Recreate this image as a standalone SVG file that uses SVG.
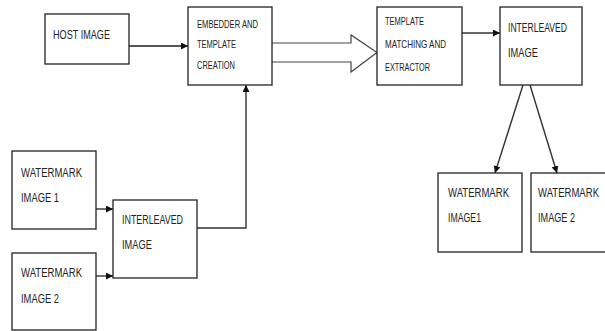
<svg xmlns="http://www.w3.org/2000/svg" width="605" height="331" viewBox="0 0 605 331">
<style>
.box{fill:#fff;stroke:#222;stroke-width:1.3}
.t{font-family:"Liberation Sans",Arial,sans-serif;font-size:12.5px;fill:#222}
.s{font-size:10.5px}
.c{fill:none;stroke:#333;stroke-width:1.4}
</style>
<defs>
<marker id="ah" viewBox="0 0 10 10" refX="10" refY="5" markerWidth="7" markerHeight="7" markerUnits="userSpaceOnUse" orient="auto">
<path d="M0,0 L10,5 L0,10 z" fill="#111"/>
</marker>
</defs>
<rect width="605" height="331" fill="#fff"/>
<g id="connectors">
<line class="c" x1="129" y1="46" x2="188" y2="46" style="stroke:#555;stroke-width:2.2" marker-end="url(#ah)"/>
<path d="M272,43 L351,43 L351,35 L377,52.5 L351,72 L351,62 L272,62" fill="#fff" stroke="#444" stroke-width="1.2"/>
<line class="c" x1="462" y1="33" x2="500" y2="33" marker-end="url(#ah)"/>
<line class="c" x1="523" y1="85" x2="495" y2="173" marker-end="url(#ah)"/>
<line class="c" x1="530" y1="85" x2="557" y2="173" marker-end="url(#ah)"/>
<line class="c" x1="96" y1="209" x2="113" y2="209" marker-end="url(#ah)"/>
<line class="c" x1="96" y1="276" x2="113" y2="276" marker-end="url(#ah)"/>
<polyline class="c" points="197,228 246,228 246,85" marker-end="url(#ah)"/>
</g>
<g id="host">
<rect class="box" x="45" y="14" width="84" height="50"/>
<text class="t" x="53" y="39" textLength="57" lengthAdjust="spacingAndGlyphs">HOST IMAGE</text>
</g>
<g id="embedder">
<rect class="box" x="188" y="7" width="84" height="78"/>
<text class="t s" x="197" y="28" textLength="61" lengthAdjust="spacingAndGlyphs">EMBEDDER AND</text>
<text class="t s" x="197" y="48" textLength="39" lengthAdjust="spacingAndGlyphs">TEMPLATE</text>
<text class="t s" x="197" y="69" textLength="38" lengthAdjust="spacingAndGlyphs">CREATION</text>
</g>
<g id="matching">
<rect class="box" x="377" y="7" width="85" height="78"/>
<text class="t s" x="385" y="25" textLength="39" lengthAdjust="spacingAndGlyphs">TEMPLATE</text>
<text class="t s" x="385" y="48" textLength="61" lengthAdjust="spacingAndGlyphs">MATCHING AND</text>
<text class="t s" x="385" y="71" textLength="45" lengthAdjust="spacingAndGlyphs">EXTRACTOR</text>
</g>
<g id="interleaved-out">
<rect class="box" x="500" y="7" width="82" height="78"/>
<text class="t" x="508" y="32" textLength="59" lengthAdjust="spacingAndGlyphs">INTERLEAVED</text>
<text class="t" x="508" y="57" textLength="30" lengthAdjust="spacingAndGlyphs">IMAGE</text>
</g>
<g id="wm-out-1">
<rect class="box" x="438" y="173" width="84" height="79"/>
<text class="t" x="448" y="197" textLength="61" lengthAdjust="spacingAndGlyphs">WATERMARK</text>
<text class="t" x="448" y="222" textLength="33" lengthAdjust="spacingAndGlyphs">IMAGE1</text>
</g>
<g id="wm-out-2">
<rect class="box" x="531" y="173" width="80" height="79"/>
<text class="t" x="538" y="197" textLength="61" lengthAdjust="spacingAndGlyphs">WATERMARK</text>
<text class="t" x="538" y="222" textLength="37" lengthAdjust="spacingAndGlyphs">IMAGE 2</text>
</g>
<g id="wm-in-1">
<rect class="box" x="12" y="151" width="84" height="78"/>
<text class="t" x="21" y="177" textLength="61" lengthAdjust="spacingAndGlyphs">WATERMARK</text>
<text class="t" x="21" y="202" textLength="38" lengthAdjust="spacingAndGlyphs">IMAGE 1</text>
</g>
<g id="wm-in-2">
<rect class="box" x="12" y="253" width="84" height="77"/>
<text class="t" x="21" y="277" textLength="61" lengthAdjust="spacingAndGlyphs">WATERMARK</text>
<text class="t" x="21" y="303" textLength="38" lengthAdjust="spacingAndGlyphs">IMAGE 2</text>
</g>
<g id="interleaved-in">
<rect class="box" x="113" y="200" width="84" height="78"/>
<text class="t" x="122" y="224" textLength="61" lengthAdjust="spacingAndGlyphs">INTERLEAVED</text>
<text class="t" x="122" y="249" textLength="30" lengthAdjust="spacingAndGlyphs">IMAGE</text>
</g>
</svg>
